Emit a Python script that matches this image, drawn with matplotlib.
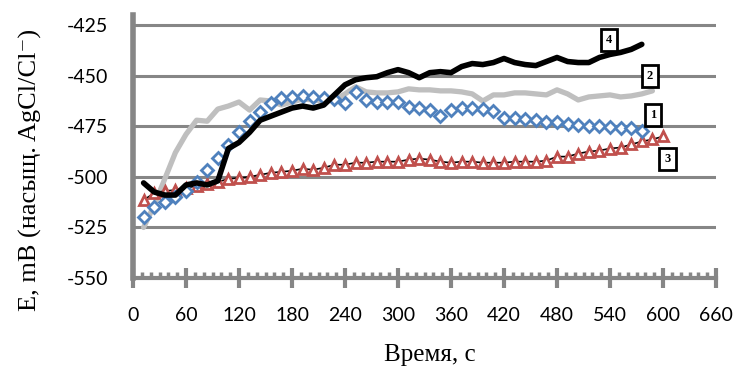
import matplotlib
matplotlib.use("Agg")
import matplotlib.pyplot as plt
from matplotlib.ticker import MultipleLocator

plt.rcParams["axes.unicode_minus"] = False

# time, s (readings every ~12 s)
t_blue = list(range(12, 577, 12))
t_red = list(range(12, 601, 12))
t_gray = list(range(12, 589, 12))
t_black = list(range(12, 577, 12))

# curve 1
e_blue = [-520, -515, -512.5, -510, -507, -502.5, -496.5, -490.5, -484.5, -478,
          -472.5, -468, -463.5, -461, -460.5, -460, -460.5, -461, -461.5, -463.5,
          -458, -462, -463, -463, -463, -465.5, -466, -467, -470, -467,
          -466, -466, -466.5, -467.5, -471, -471, -471.5, -472, -473, -473,
          -474, -474.5, -475, -475, -475.5, -476, -476, -477.5]
# curve 3
e_red = [-511.5, -508, -507, -506.5, -505.5, -504.5, -503.5, -502.5, -501, -500.5,
         -500, -499, -498, -497.5, -497, -496, -496.5, -495.5, -494, -494,
         -493, -493, -492.5, -492.5, -492.5, -491.5, -491, -491.5, -492.5, -493,
         -492.5, -492.5, -493, -493, -493, -492.5, -492.5, -492.5, -492, -490,
         -490, -488.5, -487.5, -487, -486, -485.5, -484, -482.5, -481.5, -480]
# curve 2
e_gray = [-525, -514, -501, -488, -479, -472, -472.5, -466.5, -465, -463,
          -467, -462, -462.5, -464.5, -463, -461.5, -462, -462.5, -462, -459,
          -455.5, -458, -458.5, -458.5, -458, -456.5, -457, -457, -457.5, -457.5,
          -458, -459, -462.5, -459.5, -459.5, -458.5, -458.5, -459, -459.5, -457,
          -459, -462, -460.5, -460, -459.5, -460.5, -460, -459, -457.5]
# curve 4
e_black = [-503, -507.5, -509, -509, -504, -503, -504, -502, -486, -483,
           -478, -472, -470, -468, -466, -465, -466, -464.5, -459.5, -454.5,
           -452, -451, -450.5, -448.5, -447, -448.5, -451, -448.5, -448, -448.5,
           -445.5, -444, -444.5, -443.5, -441.5, -443.5, -444.5, -445, -443, -441,
           -443, -443.5, -443.5, -441, -439.5, -438.5, -437, -434.5]

curve_labels = ["1", "2", "3", "4"]
label_pos = [(589, -469.5), (585, -450.2), (605, -491), (539, -432.4)]

x_ticks = list(range(0, 661, 60))
y_ticks = [-550, -525, -500, -475, -450, -425]

axis_gray = "#868686"

fig = plt.figure(figsize=(7.36, 3.83), dpi=100)
ax = fig.add_axes([133 / 736, 1 - 278 / 383, (716 - 133) / 736, (278 - 15) / 383])

for y in y_ticks[1:]:
    ax.axhline(y, color=axis_gray, lw=2.2, zorder=1)

ax.plot(t_gray, e_gray, color="#BFBFBF", lw=3.8, solid_capstyle="round", zorder=3)
ax.plot(t_red, e_red, color="black", lw=1.2, zorder=3)
ax.plot(t_red, e_red, ls="none", marker="^", ms=7.5, mfc="white", mec="#C0504D",
        mew=2, zorder=4)
ax.plot(t_blue, e_blue, ls="none", marker="D", ms=6.5, mfc="white", mec="#4F81BD",
        mew=2, zorder=4)
ax.plot(t_black, e_black, color="black", lw=4, solid_capstyle="round", zorder=5)

for lab, (x, y) in zip(curve_labels, label_pos):
    ax.text(x, y, lab, ha="center", va="center", fontsize=9, fontweight="bold",
            family="Liberation Serif", zorder=6,
            bbox=dict(boxstyle="square,pad=0.4", fc="white", ec="black", lw=2))

ax.set_xlim(0, 660)
ax.set_ylim(-550, -420)
ax.set_xticks(x_ticks)
ax.set_yticks(y_ticks)
ax.xaxis.set_minor_locator(MultipleLocator(10))

for side in ["top", "right"]:
    ax.spines[side].set_visible(False)
ax.spines["left"].set_color(axis_gray)
ax.spines["left"].set_linewidth(4)
ax.spines["bottom"].set_color(axis_gray)
ax.spines["bottom"].set_linewidth(3)

ax.tick_params(axis="y", length=0, pad=18, labelsize=14)
ax.tick_params(axis="x", which="major", direction="inout", length=14, width=3,
               color=axis_gray, pad=14, labelsize=14)
ax.tick_params(axis="x", which="minor", direction="in", length=4, width=2.5,
               color=axis_gray)
for lbl in ax.get_xticklabels() + ax.get_yticklabels():
    lbl.set_family("Lato")

fig.text(430 / 736, 1 - 355 / 383, "Время, с", ha="center", va="center",
         fontsize=18, family=["Liberation Serif", "DejaVu Serif"])
fig.text(30 / 736, 1 - 170 / 383, "E, mB (насыщ. AgCl/Cl\u207b)", ha="center",
         va="center", rotation=90, fontsize=19,
         family=["Liberation Serif", "DejaVu Serif"])

fig.savefig("out.png", dpi=100)
